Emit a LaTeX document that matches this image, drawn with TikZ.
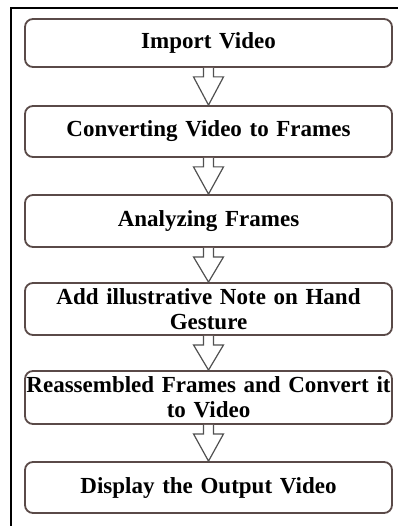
\documentclass[tikz,border=0pt]{standalone}
\usepackage{fontspec}
\setmainfont{Liberation Serif}
\usetikzlibrary{calc}
\definecolor{boxline}{HTML}{5A4A48}
\definecolor{arrline}{HTML}{505050}
\tikzset{
  stepbox/.style={draw=boxline, line width=1.8pt, rounded corners=8pt, fill=white,
    minimum width=367pt, text width=365pt, align=center, inner sep=0pt,
    font=\fontsize{23}{25}\selectfont\bfseries},
  blockarrow/.style={draw=arrline, line width=1.2pt, fill=white, line join=miter},
  frameline/.style={draw=black, line width=2pt}
}
\begin{document}
\begin{tikzpicture}[x=1pt,y=1pt]
\useasboundingbox (0,0) rectangle (398,-526);
\draw[frameline] (11,-526) -- (11,-8) -- (398,-8);
\node[stepbox, minimum height=48pt] (b1) at (208.5,-43) {Import Video};
\node[stepbox, minimum height=51pt] (b2) at (208.5,-131.5) {Converting Video to Frames};
\node[stepbox, minimum height=52pt] (b3) at (208.5,-221) {Analyzing Frames};
\node[stepbox, minimum height=52pt] (b4) at (208.5,-309) {Add illustrative Note on Hand\\Gesture};
\node[stepbox, minimum height=53pt] (b5) at (208.5,-397.5) {Reassembled Frames and Convert it\\to Video};
\node[stepbox, minimum height=51pt] (b6) at (208.5,-487.5) {Display the Output Video};
\foreach \a/\b in {b1/b2,b2/b3,b3/b4,b4/b5,b5/b6}{
  \draw[blockarrow] ($(\a.south)+(-5,0)$) -- ($(\a.south)+(-5,-9)$) -- ($(\a.south)+(-15,-9)$)
    -- (\b.north) -- ($(\a.south)+(15,-9)$) -- ($(\a.south)+(5,-9)$) -- ($(\a.south)+(5,0)$);
}
\end{tikzpicture}
\end{document}
